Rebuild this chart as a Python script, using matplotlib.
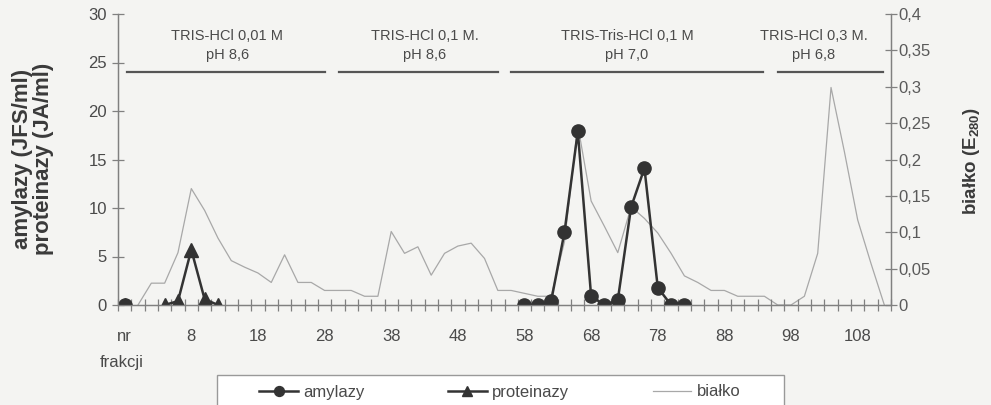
import matplotlib
matplotlib.use("Agg")
import matplotlib.pyplot as plt
from matplotlib.patches import Rectangle
import numpy as np

plt.rcParams['font.family'] = ['Liberation Sans', 'DejaVu Sans']
plt.rcParams['mathtext.fontset'] = 'custom'
plt.rcParams['mathtext.rm'] = 'Liberation Sans'
plt.rcParams['mathtext.bf'] = 'Liberation Sans:bold'

nan = np.nan

# category index: one point every 2 fractions
cats = np.arange(58)
tick_pos = [0, 5, 10, 15, 20, 25, 30, 35, 40, 45, 50, 55]
tick_labels = ["nr", "8", "18", "28", "38", "48", "58", "68", "78", "88", "98", "108"]

# amylazy (JFS/ml)
amylazy = np.full(58, nan)
amylazy[0] = 0
amylazy[30:43] = [0, 0, 0.4, 7.5, 17.9, 0.9, 0, 0.5, 10.1, 14.1, 1.8, 0, 0]

# proteinazy (JA/ml)
proteinazy = np.full(58, nan)
proteinazy[0] = 0
proteinazy[3:8] = [0, 0.4, 5.7, 0.6, 0]

# bialko (E280)
bialko = [nan, 0, 0.03, 0.03, 0.072, 0.16, 0.13, 0.092, 0.061, 0.052,
          0.044, 0.031, 0.069, 0.031, 0.031, 0.02, 0.02, 0.02, 0.012, 0.012,
          0.101, 0.071, 0.08, 0.041, 0.071, 0.081, 0.085, 0.064, 0.02, 0.02,
          0.016, 0.012, 0.012, 0.087, 0.247, 0.143, 0.108, 0.072, 0.135, 0.119,
          0.099, 0.071, 0.04, 0.031, 0.02, 0.02, 0.012, 0.012, 0.012, 0,
          0, 0.012, 0.071, 0.299, 0.211, 0.117, 0.057, 0]

# buffer segments: (start, end, label)
buf_start = [0.15, 16.05, 29.0, 49.0]
buf_end = [15.0, 28.0, 47.9, 56.9]
buf_text = ["TRIS-HCl 0,01 M\npH 8,6", "TRIS-HCl 0,1 M.\npH 8,6",
            "TRIS-Tris-HCl 0,1 M\npH 7,0", "TRIS-HCl 0,3 M.\npH 6,8"]
buf_textx = [7.7, 22.5, 37.7, 51.7]

bg = '#f4f4f2'
dark = '#333333'
txtc = '#4a4a4a'
axc = '#808080'

fig = plt.figure(figsize=(9.91, 4.05), dpi=100, facecolor=bg)
ax = fig.add_axes([118/991, 1-305/405, 773/991, 291/405])
ax.set_facecolor(bg)
ax2 = ax.twinx()

lb, = ax2.plot(cats, bialko, color='#a8a8a8', lw=0.9, zorder=1)
ax.set_zorder(ax2.get_zorder() + 1)
ax.patch.set_visible(False)
lp, = ax.plot(cats, proteinazy, color=dark, lw=1.8, marker='^', ms=9.5,
              markerfacecolor=dark, markeredgecolor=dark)
la, = ax.plot(cats, amylazy, color=dark, lw=1.8, marker='o', ms=9.5,
              markerfacecolor=dark, markeredgecolor=dark)

ax.set_xlim(-0.5, 57.5)
ax.set_ylim(0, 30)
ax2.set_ylim(0, 0.4)

ax.spines['top'].set_visible(False)
ax2.spines['top'].set_visible(False)
for a in (ax, ax2):
    for s in ['left', 'right', 'bottom']:
        a.spines[s].set_color(axc)
        a.spines[s].set_linewidth(0.9)

ax.set_yticks([0, 5, 10, 15, 20, 25, 30])
ax.tick_params(axis='y', direction='inout', length=8, width=0.9, color=axc,
               labelsize=12, labelcolor=txtc, pad=4)
ax.set_xticks(tick_pos)
ax.set_xticklabels(tick_labels)
ax.tick_params(axis='x', length=0, labelsize=12, labelcolor=txtc, pad=17)
ax.set_xticks(np.arange(-0.5, 58, 1), minor=True)
ax.tick_params(axis='x', which='minor', direction='inout', length=8, width=0.9, color=axc)

r_ticks = [0, 0.05, 0.1, 0.15, 0.2, 0.25, 0.3, 0.35, 0.4]
ax2.set_yticks(r_ticks)
ax2.set_yticklabels([("%g" % t).replace('.', ',') for t in r_ticks])
ax2.tick_params(axis='y', direction='inout', length=8, width=0.9, color=axc,
                labelsize=12, labelcolor='#5a5a5a', pad=1)

for x0, x1, t, tx in zip(buf_start, buf_end, buf_text, buf_textx):
    ax.plot([x0, x1], [24, 24], color='#555555', lw=1.6, clip_on=False)
    ax.text(tx, 26.8, t, ha='center', va='center', fontsize=10.5,
            color=txtc, linespacing=1.45)

fig.text(33/991, 1-159/405, "amylazy (JFS/ml)\nproteinazy (JA/ml)", rotation=90,
         ha='center', va='center', fontsize=16, fontweight='bold',
         color='#3a3a3a', linespacing=0.95)
fig.text(972/991, 1-161/405, r"białko (E$_{\mathbf{280}}$)", rotation=90,
         ha='center', va='center', fontsize=13.5, fontweight='bold', color='#3a3a3a')
fig.text(122/991, 1-362/405, "frakcji", ha='center', va='center',
         fontsize=12, color=txtc)

# legend frame (cut by the bottom edge, as in the scan)
fig.patches.append(Rectangle((217/991, -0.05), (784-217)/991, 0.05 + (405-375)/405,
                             transform=fig.transFigure, facecolor='white',
                             edgecolor='#999999', lw=1.0))
leg = fig.legend([la, lp, lb], ["amylazy", "proteinazy", "białko"], ncol=3,
                 loc='center left', bbox_to_anchor=(251/991, 1-392/405),
                 frameon=False, fontsize=12, handlelength=2.3,
                 handletextpad=0.35, columnspacing=5.0, borderpad=0,
                 markerscale=0.75)
for t in leg.get_texts():
    t.set_color(txtc)

fig.savefig("out.png", dpi=100, facecolor=bg)
